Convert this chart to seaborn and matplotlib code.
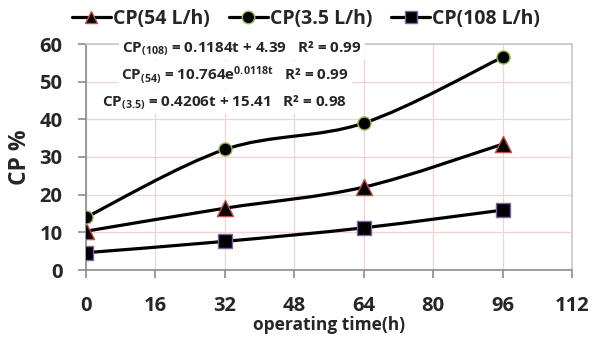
import matplotlib
matplotlib.use("Agg")
import matplotlib.pyplot as plt
import numpy as np
import pandas as pd
import seaborn as sns
from matplotlib.path import Path
from matplotlib.patches import PathPatch
from matplotlib.lines import Line2D

# data
time_h = [0, 32, 64, 96]
cp_54 = [10.3, 16.4, 22.0, 33.4]
cp_35 = [14.0, 32.0, 39.0, 56.5]
cp_108 = [4.6, 7.6, 11.2, 15.9]
x_ticks = [0, 16, 32, 48, 64, 80, 96, 112]
y_ticks = [0, 10, 20, 30, 40, 50, 60]
labels = ["CP(54 L/h)", "CP(3.5 L/h)", "CP(108 L/h)"]
eq_lines = [
    r"CP$_{\mathbf{(108)}}$ = 0.1184t + 4.39   R² = 0.99",
    r"CP$_{\mathbf{(54)}}$ = 10.764e$^{\mathbf{0.0118t}}$   R² = 0.99",
    r"CP$_{\mathbf{(3.5)}}$ = 0.4206t + 15.41   R² = 0.98",
]

sns.set_style("white")
plt.rcParams['font.family'] = ['Open Sans', 'DejaVu Sans']
plt.rcParams['mathtext.fontset'] = 'custom'
plt.rcParams['mathtext.rm'] = 'Open Sans:bold'
plt.rcParams['mathtext.bf'] = 'Open Sans:bold'
plt.rcParams['mathtext.it'] = 'Open Sans:bold'

df = pd.DataFrame({'t': time_h * 3,
                   'cp': cp_54 + cp_35 + cp_108,
                   'series': [labels[0]] * 4 + [labels[1]] * 4 + [labels[2]] * 4})

fig = plt.figure(figsize=(5.92, 3.38), dpi=100)
ax = fig.add_axes([86 / 592, 1 - 270 / 338, (572 - 86) / 592, (270 - 44) / 338])


def smooth_path(xs, ys):
    # excel-like smoothed line (cardinal bezier through the points)
    pts = np.column_stack([xs, ys]).astype(float)
    verts = [pts[0]]
    codes = [Path.MOVETO]
    n = len(pts)
    for i in range(n - 1):
        p0 = pts[max(i - 1, 0)]
        p1 = pts[i]
        p2 = pts[i + 1]
        p3 = pts[min(i + 2, n - 1)]
        c1 = p1 + (p2 - p0) / 6
        c2 = p2 - (p3 - p1) / 6
        verts += [c1, c2, p2]
        codes += [Path.CURVE4] * 3
    return Path(verts, codes)


styles = [
    (cp_54, '^', '#c0504d', 135),
    (cp_35, 'o', '#9bbb59', 88),
    (cp_108, 's', '#8064a2', 100),
]
for vals, mk, ec, sz in styles:
    ax.add_patch(PathPatch(smooth_path(time_h, vals), fill=False, edgecolor='black',
                           lw=2.3, zorder=3, capstyle='round'))

for (vals, mk, ec, sz), lab in zip(styles, labels):
    sub = df[df['series'] == lab]
    sns.scatterplot(data=sub, x='t', y='cp', marker=mk, s=sz, color='black',
                    edgecolor=ec, linewidth=1.0, ax=ax, zorder=4, legend=False)

ax.set_xlim(0, 112)
ax.set_ylim(0, 60)
ax.set_xticks(x_ticks)
ax.set_yticks(y_ticks)
ax.set_xticklabels([str(v) for v in x_ticks], fontsize=14.5, fontweight='bold')
ax.set_yticklabels([str(v) for v in y_ticks], fontsize=14.5, fontweight='bold')
ax.grid(True, color='#f2d3d3', lw=0.9)
ax.set_axisbelow(True)
for s in ['left', 'bottom']:
    ax.spines[s].set_color('#8c8c8c')
    ax.spines[s].set_linewidth(1.2)
for s in ['top', 'right']:
    ax.spines[s].set_color('#c8c8c8')
    ax.spines[s].set_linewidth(1.2)
ax.tick_params(axis='both', direction='out', length=6, width=1.2, color='#8c8c8c',
               left=True, bottom=True)
ax.tick_params(axis='y', pad=11)
ax.tick_params(axis='x', pad=13)
ax.set_xlabel("operating time(h)", fontsize=12.5, fontweight='bold', labelpad=0)
ax.set_ylabel("CP %", fontsize=16.5, fontweight='bold', labelpad=5)

handles = [Line2D([0], [0], color='black', lw=2.3, marker=mk, markersize=9,
                  markerfacecolor='black', markeredgecolor=ec)
           for vals, mk, ec, sz in styles]
fig.legend(handles, labels, loc='center', bbox_to_anchor=(306 / 592, 1 - 19 / 338), ncol=3,
           frameon=False, prop={'size': 14, 'weight': 'bold'}, handlelength=2.0,
           handletextpad=0.1, columnspacing=1.0, borderpad=0, borderaxespad=0)

eq_pos = [(242, 48), (235, 75), (224, 102)]
for txt, (px, py) in zip(eq_lines, eq_pos):
    fig.text(px / 592, 1 - py / 338, txt, ha='center', va='center', fontsize=11,
             fontweight='bold', zorder=10,
             bbox=dict(facecolor='white', edgecolor='none', pad=2.5))

fig.savefig('out.png', dpi=100)
